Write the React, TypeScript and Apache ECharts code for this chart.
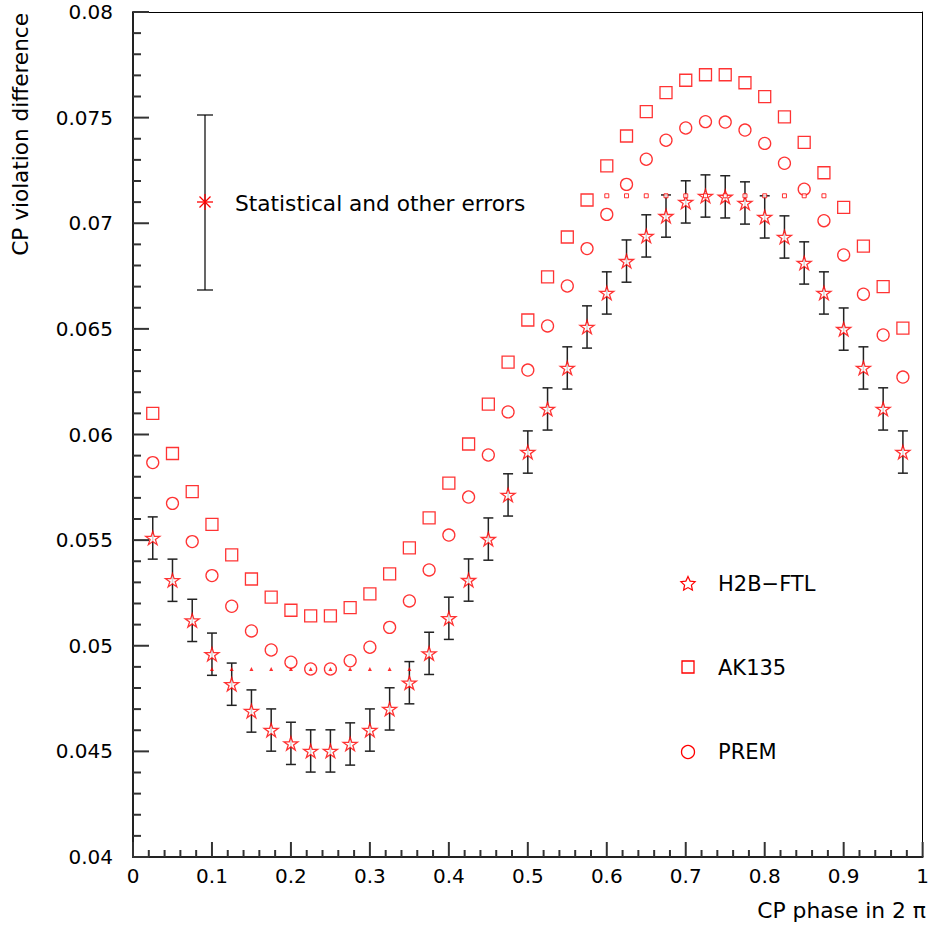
import React, { useEffect, useRef } from "react";
import * as echarts from "echarts";

// CP phase (in units of 2π)
const phase = [
  0.025, 0.05, 0.075, 0.1, 0.125, 0.15, 0.175, 0.2, 0.225, 0.25,
  0.275, 0.3, 0.325, 0.35, 0.375, 0.4, 0.425, 0.45, 0.475, 0.5,
  0.525, 0.55, 0.575, 0.6, 0.625, 0.65, 0.675, 0.7, 0.725, 0.75,
  0.775, 0.8, 0.825, 0.85, 0.875, 0.9, 0.925, 0.95, 0.975,
];

const h2bFtl = [
  0.0551, 0.0531, 0.0512, 0.0496, 0.04818, 0.04691, 0.04601, 0.04538, 0.04502, 0.04502,
  0.04535, 0.04601, 0.04701, 0.04825, 0.04964, 0.0513, 0.05311, 0.05505, 0.05714, 0.05917,
  0.06121, 0.06315, 0.06509, 0.0667, 0.06821, 0.0694, 0.07034, 0.07101, 0.07129, 0.07125,
  0.07096, 0.0703, 0.06935, 0.06812, 0.0667, 0.06499, 0.06315, 0.06121, 0.05917,
];

const ak135 = [
  0.061, 0.0591, 0.0573, 0.05575, 0.0543, 0.05316, 0.0523, 0.05168, 0.05141, 0.05141,
  0.0518, 0.05246, 0.0534, 0.05463, 0.05605, 0.0577, 0.05955, 0.06144, 0.06343, 0.06542,
  0.06746, 0.06935, 0.0711, 0.07272, 0.07413, 0.07528, 0.07618, 0.07677, 0.07703, 0.07703,
  0.07665, 0.07599, 0.07504, 0.07383, 0.07239, 0.07075, 0.06892, 0.067, 0.06504,
];

const prem = [
  0.05867, 0.05674, 0.05493, 0.05332, 0.05187, 0.0507, 0.0498, 0.04922, 0.0489, 0.0489,
  0.04929, 0.04993, 0.05087, 0.05212, 0.05359, 0.05524, 0.05704, 0.05903, 0.06107, 0.06305,
  0.06514, 0.06703, 0.0688, 0.07042, 0.07184, 0.07303, 0.07393, 0.07451, 0.07481, 0.07479,
  0.07441, 0.07378, 0.07284, 0.07161, 0.07012, 0.0685, 0.06664, 0.06471, 0.06272,
];

const h2bError = 0.001;

const lowerRefX = [0.1, 0.125, 0.15, 0.175, 0.2, 0.225, 0.25, 0.275, 0.3, 0.325, 0.35];
const lowerRefY = 0.0489;
const upperRefX = [0.6, 0.625, 0.65, 0.675, 0.7, 0.725, 0.75, 0.775, 0.8, 0.825, 0.85, 0.875];
const upperRefY = 0.0713;

// axis scales
const xMin = 0, xMax = 1, xMajor = 0.1, xMinor = 0.02;
const yMin = 0.04, yMax = 0.08, yMajor = 0.005, yMinor = 0.001;

const legendNames = ["H2B\u2212FTL", "AK135", "PREM"];
const errorLegendText = "Statistical and other errors";
const xTitle = "CP phase in 2 \u03c0";
const yTitle = "CP violation difference";

const FONT = "DejaVu Sans";
const RED = "#ff0000";
const STAR =
  "path://M50 0 L61.23 34.55 L97.55 34.55 L68.16 55.9 L79.39 90.45 L50 69.1 L20.61 90.45 L31.84 55.9 L2.45 34.55 L38.77 34.55 Z";

function starPoints(cx: number, cy: number, R: number, r: number) {
  const pts: number[][] = [];
  for (let i = 0; i < 10; i++) {
    const a = -Math.PI / 2 + (i * Math.PI) / 5;
    const rr = i % 2 === 0 ? R : r;
    pts.push([cx + rr * Math.cos(a), cy + rr * Math.sin(a)]);
  }
  return pts;
}

export default function App() {
  const ref = useRef<HTMLDivElement>(null);

  useEffect(() => {
    document.body.style.margin = "0";
    const chart = echarts.init(ref.current!, null, { renderer: "svg" });

    const errData = phase.map((x, i) => [x, h2bFtl[i] - h2bError, h2bFtl[i] + h2bError]);
    const axisColor = "#222";
    const frameAxis = {
      type: "value",
      axisLine: { show: true, onZero: false, lineStyle: { color: "#000", width: 1 } },
      axisTick: { show: false },
      axisLabel: { show: false },
      splitLine: { show: false },
    };

    const baseGraphic: any[] = [
      // y-axis title
      {
        type: "text",
        x: 20,
        y: 13,
        rotation: Math.PI / 2,
        style: {
          text: yTitle,
          fontFamily: FONT,
          fontSize: 21.6,
          fill: "#000",
          textAlign: "right",
          textVerticalAlign: "middle",
        },
      },
      // x-axis title
      {
        type: "text",
        x: 926,
        y: 910,
        style: {
          text: xTitle,
          fontFamily: FONT,
          fontSize: 21.8,
          fill: "#000",
          textAlign: "right",
          textVerticalAlign: "middle",
        },
      },
      // error legend bar
      { type: "line", shape: { x1: 205, y1: 115, x2: 205, y2: 290 }, style: { stroke: "#000", lineWidth: 1.2 } },
      { type: "line", shape: { x1: 197, y1: 115, x2: 213, y2: 115 }, style: { stroke: "#000", lineWidth: 1.2 } },
      { type: "line", shape: { x1: 197, y1: 290, x2: 213, y2: 290 }, style: { stroke: "#000", lineWidth: 1.2 } },
      { type: "line", shape: { x1: 197, y1: 202, x2: 213, y2: 202 }, style: { stroke: RED, lineWidth: 1.3 } },
      { type: "line", shape: { x1: 205, y1: 194, x2: 205, y2: 210 }, style: { stroke: RED, lineWidth: 1.3 } },
      { type: "line", shape: { x1: 199.5, y1: 196.5, x2: 210.5, y2: 207.5 }, style: { stroke: RED, lineWidth: 1.3 } },
      { type: "line", shape: { x1: 199.5, y1: 207.5, x2: 210.5, y2: 196.5 }, style: { stroke: RED, lineWidth: 1.3 } },
      {
        type: "text",
        x: 235,
        y: 203,
        style: {
          text: errorLegendText,
          fontFamily: FONT,
          fontSize: 21.7,
          fill: "#000",
          textAlign: "left",
          textVerticalAlign: "middle",
        },
      },
      // legend markers
      {
        type: "polygon",
        shape: { points: starPoints(688, 584, 7.5, 3.6) },
        style: { fill: "#fff", stroke: RED, lineWidth: 1.2 },
      },
      {
        type: "rect",
        shape: { x: 682, y: 661, width: 12, height: 12 },
        style: { fill: "#fff", stroke: RED, lineWidth: 1.3 },
      },
      {
        type: "circle",
        shape: { cx: 688, cy: 752, r: 6.5 },
        style: { fill: "#fff", stroke: RED, lineWidth: 1.3 },
      },
      ...legendNames.map((name, i) => ({
        type: "text",
        x: 718,
        y: [584, 668, 752][i],
        style: {
          text: name,
          fontFamily: FONT,
          fontSize: 21,
          fill: "#000",
          textAlign: "left",
          textVerticalAlign: "middle",
        },
      })),
    ];

    const option: any = {
      animation: false,
      grid: { left: 133, right: 6, top: 12, bottom: 69 },
      xAxis: [
        {
          type: "value",
          min: xMin,
          max: xMax,
          interval: xMajor,
          axisLine: { show: true, onZero: false, lineStyle: { color: axisColor, width: 2 } },
          axisTick: { show: false },
          splitLine: { show: false },
          axisLabel: {
            fontFamily: FONT,
            fontSize: 20,
            color: "#000",
            margin: 9,
            formatter: (v: number) => Number(v.toFixed(2)).toString(),
          },
        },
        { ...frameAxis, position: "top", min: xMin, max: xMax, interval: xMajor },
      ],
      yAxis: [
        {
          type: "value",
          min: yMin,
          max: yMax,
          interval: yMajor,
          axisLine: { show: true, onZero: false, lineStyle: { color: axisColor, width: 2 } },
          axisTick: { show: false },
          splitLine: { show: false },
          axisLabel: {
            fontFamily: FONT,
            fontSize: 20,
            color: "#000",
            margin: 20,
            formatter: (v: number) => Number(v.toFixed(3)).toString(),
          },
        },
        { ...frameAxis, position: "right", min: yMin, max: yMax, interval: yMajor },
      ],
      series: [
        {
          type: "custom",
          data: errData,
          renderItem: (params: any, api: any) => {
            const x = api.value(0);
            const lo = api.coord([x, api.value(1)]);
            const hi = api.coord([x, api.value(2)]);
            const w = 5;
            const st = { stroke: "#222", lineWidth: 1.5 };
            return {
              type: "group",
              children: [
                { type: "line", shape: { x1: lo[0], y1: lo[1], x2: hi[0], y2: hi[1] }, style: st },
                { type: "line", shape: { x1: lo[0] - w, y1: lo[1], x2: lo[0] + w, y2: lo[1] }, style: st },
                { type: "line", shape: { x1: hi[0] - w, y1: hi[1], x2: hi[0] + w, y2: hi[1] }, style: st },
              ],
            };
          },
        },
        {
          type: "scatter",
          name: "AK135",
          data: phase.map((x, i) => [x, ak135[i]]),
          symbol: "rect",
          symbolSize: 12,
          itemStyle: { color: "#fff", borderColor: RED, borderWidth: 1.3 },
          z: 3,
        },
        {
          type: "scatter",
          name: "PREM",
          data: phase.map((x, i) => [x, prem[i]]),
          symbol: "circle",
          symbolSize: 12,
          itemStyle: { color: "#fff", borderColor: RED, borderWidth: 1.3 },
          z: 3,
        },
        {
          type: "scatter",
          name: "H2B-FTL",
          data: phase.map((x, i) => [x, h2bFtl[i]]),
          symbol: STAR,
          symbolKeepAspect: true,
          symbolSize: 14,
          itemStyle: { color: "#fff", borderColor: RED, borderWidth: 1.3 },
          z: 4,
        },
        {
          type: "scatter",
          name: "lowerRef",
          data: lowerRefX.map((x) => [x, lowerRefY]),
          symbol: "triangle",
          symbolSize: 4,
          itemStyle: { color: RED },
          z: 5,
        },
        {
          type: "scatter",
          name: "upperRef",
          data: upperRefX.map((x) => [x, upperRefY]),
          symbol: "rect",
          symbolSize: 4,
          itemStyle: { color: "#fff", borderColor: RED, borderWidth: 1 },
          z: 5,
        },
      ],
      graphic: baseGraphic,
    };

    chart.setOption(option);

    // Axis ticks (inside), placed through the chart's own scales.
    const tickEls: any[] = [];
    const st = { stroke: "#333", lineWidth: 2 };
    const nx = Math.round((xMax - xMin) / xMinor);
    const perX = Math.round(xMajor / xMinor);
    for (let i = 0; i <= nx; i++) {
      const v = xMin + i * xMinor;
      const p = chart.convertToPixel({ gridIndex: 0 } as any, [v, yMin]) as number[];
      if (!p) continue;
      const len = i % perX === 0 ? 15 : 7;
      tickEls.push({ type: "line", z: 100, shape: { x1: p[0], y1: p[1], x2: p[0], y2: p[1] - len }, style: st });
    }
    const ny = Math.round((yMax - yMin) / yMinor);
    const perY = Math.round(yMajor / yMinor);
    for (let i = 0; i <= ny; i++) {
      const v = yMin + i * yMinor;
      const p = chart.convertToPixel({ gridIndex: 0 } as any, [xMin, v]) as number[];
      if (!p) continue;
      const len = i % perY === 0 ? 16 : 8;
      tickEls.push({ type: "line", z: 100, shape: { x1: p[0], y1: p[1], x2: p[0] + len, y2: p[1] }, style: st });
    }
    chart.setOption({ graphic: [...baseGraphic, ...tickEls] });

    return () => chart.dispose();
  }, []);

  return <div ref={ref} style={{ width: 932, height: 926 }} />;
}
